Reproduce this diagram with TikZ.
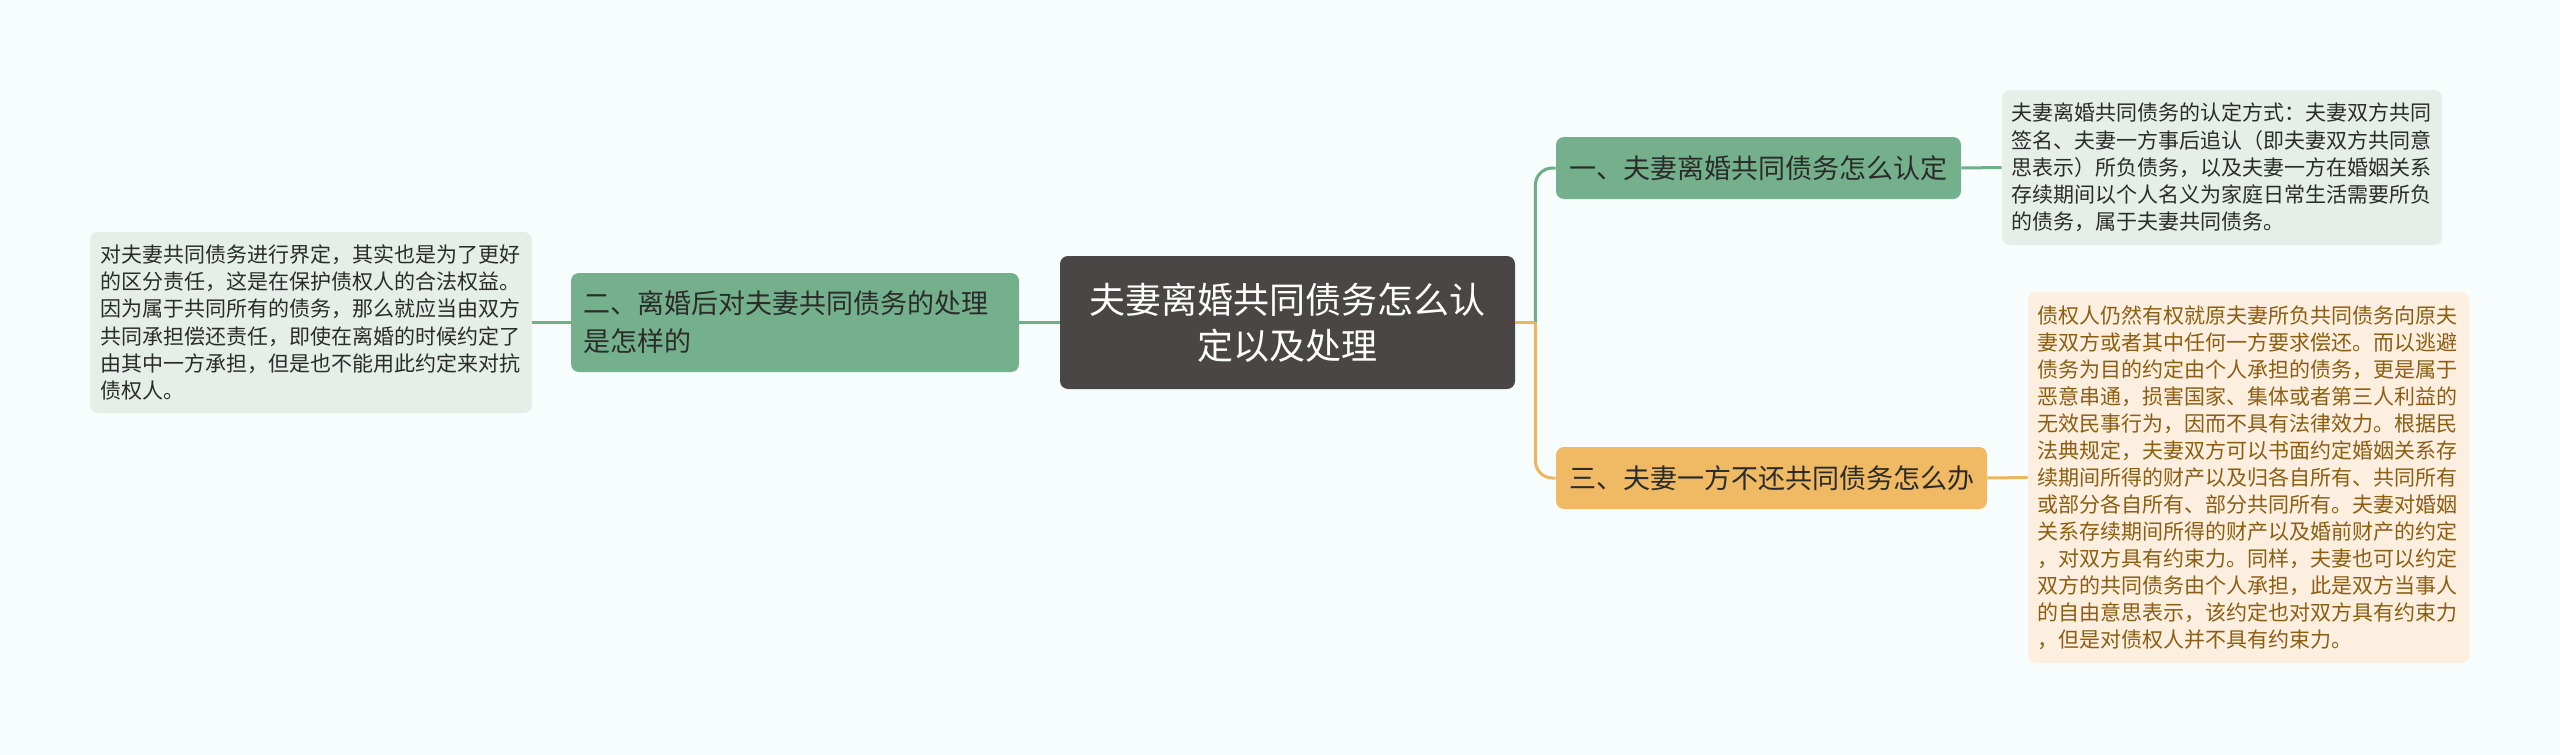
\documentclass[tikz,border=0pt]{standalone}
\usepackage{fontspec}
\setmainfont{Noto Sans CJK SC}
\definecolor{bgc}{HTML}{F7FCFD}
\definecolor{greenline}{HTML}{6FAF87}
\definecolor{greennode}{HTML}{74B08B}
\definecolor{greenleaf}{HTML}{E5EFE8}
\definecolor{orangeline}{HTML}{EDB65E}
\definecolor{orangenode}{HTML}{EFBA63}
\definecolor{orangeleaf}{HTML}{FCEFDF}
\definecolor{orangetext}{HTML}{8B5E12}
\definecolor{centerfill}{HTML}{4A4646}
\definecolor{darktext}{HTML}{2B2B2B}
\begin{document}
\begin{tikzpicture}[x=0.5pt,y=-0.5pt,
  box/.style={rounded corners=4pt, inner sep=0pt, anchor=center},
  centerbox/.style={box, fill=centerfill, text=white, align=center, text width=215pt,
     minimum width=227.5pt, minimum height=66.5pt, font=\fontsize{18}{23}\selectfont},
  branchG/.style={box, fill=greennode, text=darktext, font=\fontsize{13.5}{19}\selectfont},
  branchO/.style={box, fill=orangenode, text=darktext, font=\fontsize{13.5}{19}\selectfont},
  leafG/.style={box, fill=greenleaf, text=darktext, align=left, text width=211pt,
     font=\fontsize{10.5}{13.6}\selectfont},
  leafO/.style={box, fill=orangeleaf, text=orangetext, align=left, text width=211pt,
     font=\fontsize{10.5}{13.5}\selectfont},
  conG/.style={draw=greenline, line width=1.5pt},
  conO/.style={draw=orangeline, line width=1.5pt}]
\fill[bgc] (0,0) rectangle (2560,755);
\useasboundingbox (0,0) rectangle (2560,755);

\node[centerbox] (c) at (1287.5,322.5) {夫妻离婚共同债务怎么认\\定以及处理};

\node[branchG, align=left, text width=212pt, minimum width=224pt, minimum height=49.5pt] (b2) at (795,322.5)
  {二、离婚后对夫妻共同债务的处理\\是怎样的};
\node[leafG, minimum width=221pt, minimum height=90.5pt] (l2) at (311,322.5)
  {对夫妻共同债务进行界定，其实也是为了更好\\的区分责任，这是在保护债权人的合法权益。\\因为属于共同所有的债务，那么就应当由双方\\共同承担偿还责任，即使在离婚的时候约定了\\由其中一方承担，但是也不能用此约定来对抗\\债权人。};

\node[branchG, align=center, minimum width=202.5pt, minimum height=31pt] (b1) at (1758.5,168)
  {一、夫妻离婚共同债务怎么认定};
\node[leafG, minimum width=220pt, minimum height=77.5pt] (l1) at (2222,167.5)
  {夫妻离婚共同债务的认定方式：夫妻双方共同\\签名、夫妻一方事后追认（即夫妻双方共同意\\思表示）所负债务，以及夫妻一方在婚姻关系\\存续期间以个人名义为家庭日常生活需要所负\\的债务，属于夫妻共同债务。};

\node[branchO, align=center, minimum width=215.5pt, minimum height=31pt] (b3) at (1771.5,478)
  {三、夫妻一方不还共同债务怎么办};
\node[leafO, minimum width=220.5pt, minimum height=185.5pt] (l3) at (2248.5,477.5)
  {债权人仍然有权就原夫妻所负共同债务向原夫\\妻双方或者其中任何一方要求偿还。而以逃避\\债务为目的约定由个人承担的债务，更是属于\\恶意串通，损害国家、集体或者第三人利益的\\无效民事行为，因而不具有法律效力。根据民\\法典规定，夫妻双方可以书面约定婚姻关系存\\续期间所得的财产以及归各自所有、共同所有\\或部分各自所有、部分共同所有。夫妻对婚姻\\关系存续期间所得的财产以及婚前财产的约定\\，对双方具有约束力。同样，夫妻也可以约定\\双方的共同债务由个人承担，此是双方当事人\\的自由意思表示，该约定也对双方具有约束力\\，但是对债权人并不具有约束力。};

\coordinate (j) at ([xshift=10pt]c.east);

\draw[conG] (c.west) -- (b2.east);
\draw[conG] (b2.west) -- (l2.east);
\draw[conG, rounded corners=8.5pt] (j) |- (b1.west);
\draw[conO, rounded corners=8.5pt] (j) |- (b3.west);
\draw[conO] (c.east) -- (j);
\draw[conG] (b1.east) -- (l1.west);
\draw[conO] (b3.east) -- (l3.west);
\end{tikzpicture}
\end{document}
